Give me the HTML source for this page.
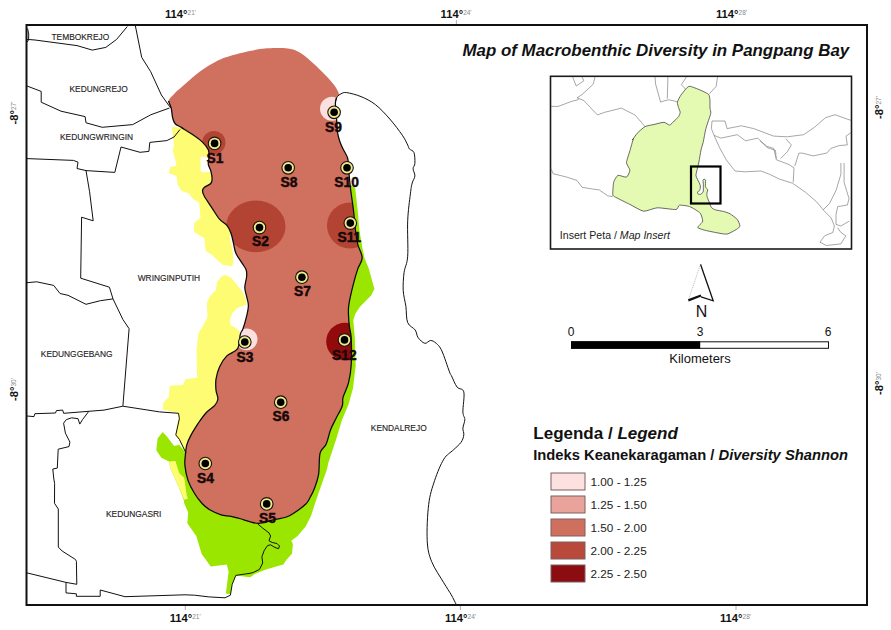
<!DOCTYPE html><html><head><meta charset="utf-8"><style>html,body{margin:0;padding:0;background:#fff;width:891px;height:630px;overflow:hidden}svg{display:block}</style></head><body><svg width="891" height="630" viewBox="0 0 891 630">
<defs><clipPath id="bayclip"><path d="M168.5,101 C169.1,98.5 172.8,95.4 175,93 C177.2,90.6 177.8,90.3 182,86.7 C186.2,83.1 194.0,75.8 200,71.4 C206.0,67.1 212.9,63.2 217.9,60.6 C222.9,58.0 225.7,57.4 230,56 C234.3,54.6 238.6,53.6 243.5,52.5 C248.4,51.4 255.1,49.8 259.6,49.1 C264.1,48.4 265.7,48.3 270.4,48.2 C275.1,48.1 283.4,48.0 287.9,48.5 C292.4,49.0 294.4,49.9 297.3,51.2 C300.2,52.5 302.2,54.0 305.4,56.5 C308.5,59.0 312.6,62.6 316.2,66 C319.8,69.4 323.9,73.4 327,76.8 C330.1,80.2 333.0,83.3 335,86.2 C337.0,89.1 338.8,92.4 339,94.3 C339.2,96.2 337.1,96.0 336.5,97.5 C335.9,99.0 335.5,100.6 335.4,103 C335.3,105.4 335.7,108.3 336,112 C336.3,115.7 336.7,121.4 337,125 C337.3,128.6 337.2,130.6 337.7,133.4 C338.2,136.2 339.1,139.4 340,142 C340.9,144.6 341.8,146.3 343.1,149 C344.4,151.7 346.7,155.0 347.6,158 C348.5,161.0 348.1,162.1 348.5,166.9 C348.9,171.7 349.5,179.7 350.3,186.7 C351.1,193.7 352.4,201.5 353.3,208.9 C354.2,216.3 354.9,225.2 355.6,231.1 C356.4,237.0 356.7,239.9 357.8,244.4 C358.9,248.9 362.2,253.7 362.2,257.8 C362.2,261.9 359.3,264.5 357.8,268.9 C356.3,273.3 354.8,278.5 353.3,284.4 C351.8,290.3 349.7,299.3 348.9,304.4 C348.1,309.5 348.4,311.4 348.5,315 C348.6,318.6 348.9,322.4 349.4,326.2 C349.8,330.0 350.9,331.6 351.2,338 C351.5,344.4 351.6,357.4 351.2,364.9 C350.8,372.4 349.9,377.4 348.5,382.8 C347.1,388.2 344.2,393.3 343.1,397.2 C342.1,401.1 343.4,402.6 342.2,406.2 C341.0,409.8 337.8,414.7 335.9,418.7 C333.9,422.7 332.1,425.8 330.5,430 C328.9,434.2 327.9,440.2 326.2,444.1 C324.5,448.0 321.4,448.2 320.1,453.2 C318.8,458.2 319.6,468.3 318.6,474.3 C317.6,480.3 315.5,485.5 314.1,489.3 C312.7,493.1 311.7,494.5 310.3,497 C308.9,499.5 308.5,501.5 305.6,504.3 C302.7,507.1 296.1,511.7 292.9,513.8 C289.7,515.9 289.4,516.1 286.5,517 C283.6,517.9 280.2,518.4 275.4,519.4 C270.6,520.4 263.9,523.4 257.9,523.3 C251.9,523.1 244.1,519.7 239.4,518.5 C234.8,517.3 233.1,516.8 230,516.2 C226.9,515.6 224.5,516.0 221.1,514.9 C217.7,513.8 212.9,511.7 209.7,509.8 C206.5,507.9 204.6,506.2 202.1,503.5 C199.6,500.8 196.7,497.1 194.4,493.3 C192.1,489.5 189.7,485.2 188.1,480.6 C186.5,476.0 185.3,470.0 184.9,465.4 C184.5,460.8 185.3,456.1 185.6,452.7 C185.9,449.3 186.0,447.6 186.8,444.8 C187.6,442.0 188.7,439.5 190.6,435.9 C192.5,432.3 195.8,427.0 198.3,423.2 C200.9,419.4 203.2,416.0 205.9,413 C208.7,410.0 212.8,407.7 214.8,405.4 C216.8,403.1 217.7,401.5 217.9,399 C218.1,396.5 216.3,393.5 216,390.2 C215.7,386.9 215.4,383.1 216,379.2 C216.6,375.3 217.8,370.6 219.6,366.7 C221.4,362.8 223.8,358.9 226.8,355.9 C229.8,352.9 235.3,352.3 237.6,348.7 C239.8,345.1 239.4,337.7 240.3,334.4 C241.2,331.1 241.9,331.7 243,328.7 C244.1,325.7 245.7,320.1 246.6,316.2 C247.5,312.3 248.4,308.7 248.4,305.4 C248.4,302.1 247.2,299.4 246.6,296.4 C246.0,293.4 244.8,290.8 244.8,287.5 C244.8,284.2 246.4,279.6 246.6,276.7 C246.8,273.8 246.9,272.2 246.2,270 C245.5,267.8 244.1,266.4 242.4,263.7 C240.7,260.9 237.5,256.9 236,253.5 C234.5,250.1 234.3,246.7 233.5,243.3 C232.7,239.9 232.1,236.1 231,233.2 C229.9,230.2 229.0,227.9 227.1,225.6 C225.2,223.3 222.0,222.2 219.5,219.2 C217.0,216.2 214.4,211.6 211.9,207.8 C209.4,204.0 205.9,199.1 204.3,196.3 C202.7,193.5 202.5,192.6 202.5,191.1 C202.5,189.6 203.0,188.6 204.4,187.3 C205.8,186.0 209.5,185.0 210.8,183.5 C212.1,182.0 212.1,180.5 212.1,178.4 C212.1,176.3 211.4,173.1 210.8,170.8 C210.2,168.5 208.6,166.5 208.3,164.4 C208.0,162.3 208.9,160.5 208.9,158.1 C208.9,155.7 209.5,152.6 208.3,149.8 C207.1,147.1 204.7,144.2 201.9,141.6 C199.1,139.0 195.1,136.3 191.7,134 C188.3,131.7 184.3,129.3 181.6,127.6 C178.8,125.9 176.7,125.4 175.2,123.8 C173.7,122.2 173.4,120.6 172.7,118 C172.0,115.4 171.9,111.0 171.2,108.2 C170.5,105.4 167.9,103.5 168.5,101Z"/></clipPath></defs>
<rect width="891" height="630" fill="#fff"/>
<path d="M172,127 L181.6,127.6 L191.7,134 L201.9,141.6 L208.3,149.8 L208.9,156.8 L200.6,156.8 L200.6,171 L203,172.3 L209.5,172.3 L210.8,170.8 L212.1,178.4 L210.8,183.5 L204.4,187.3 L202.5,191.1 L204.3,196.3 L211.9,207.8 L219.5,219.2 L227.1,225.6 L231,233.2 L229.7,238.3 L232.2,247.1 L233.5,259.8 L232.2,266.2 L223.3,264.9 L218.3,261.1 L211.9,254.8 L205.6,251 L204.3,238.3 L194.1,231.9 L194.1,223 L200.5,217.9 L199.2,202.7 L193,199 L189.2,193.7 L181.6,191.1 L177.8,184.8 L176.5,175.9 L168.9,173.3 L170.2,167 L176.5,165.7 L175.2,159.4 L172.7,150.5 L174,145.4Z" fill="#fdfc72"/>
<path d="M221.2,276.7 L225,274.8 L230.7,277.6 L233.9,281.1 L238.4,286.7 L242.9,292.3 L246.2,300.2 L246.2,304.7 L237.2,308.1 L232.7,312.5 L229.9,319.3 L230.5,324.9 L236.1,328.3 L241,333 L238,348.7 L226.8,355.9 L219.6,366.7 L216,379.2 L216,390.2 L217.9,399 L214.8,405.4 L205.9,413 L198.3,423.2 L190.6,435.9 L186.8,444.8 L185.6,456 L184.3,451.1 L179.2,439.7 L175.4,435.9 L177.3,423.2 L179.2,416.8 L177.9,413 L162.7,409.5 L163.3,402.9 L169,396.5 L169.7,385.7 L183,385.1 L185.5,379.2 L197.2,377.5 L196.5,350 L198.5,332.7 L202.4,327.1 L207.5,317 L206.9,302.4 L210.3,295.7 L215.9,290.1 L217,282.2Z" fill="#fdfc72"/>
<path d="M162.7,432.1 L166.5,435.9 L174.1,446 L179.2,444.8 L184.3,451.1 L186,453 L230,470 L300,400 L330,250 L345,195 L350.5,185.5 L355.2,188 L357.5,208.9 L359.5,231.1 L362.2,246.7 L364.4,257.8 L368.9,268.9 L374.4,288.9 L371.1,295.6 L360,306.7 L355.6,313.3 L353.3,320 L354.8,338 L355.7,364.9 L353,388.2 L348.5,404.4 L342,420 L335.9,440 L328.3,462.9 L327,469.2 L319.4,490.8 L314.5,505 L311,516 L305.6,526.5 L297.6,536 L291.3,540.8 L292.9,544 L292.1,553.5 L286.5,559.8 L283.3,564.6 L265.9,569.4 L254.8,574.1 L250.2,577.2 L235.8,575.4 L232.2,584.4 L230.4,594.3 L225.9,593.4 L228.6,571.8 L226.8,564.6 L210.7,566.4 L201.7,553.9 L196.3,535.9 L187.3,523.3 L188.2,512.6 L184.3,503.5 L183.7,499.7 L179.2,488.3 L170.3,467.9 L169,461.6 L161.4,457.8 L156.3,450.2 L157.6,438.4Z" fill="#9ae600"/>
<path d="M169,461.6 L175.4,461 L179.2,473 L184.3,478.1 L186.8,495.9 L188.1,498.4 L184.3,499.7 L179.2,488.3 L170.3,467.9Z" fill="#fdfc72"/>
<path d="M168.5,101 C169.1,98.5 172.8,95.4 175,93 C177.2,90.6 177.8,90.3 182,86.7 C186.2,83.1 194.0,75.8 200,71.4 C206.0,67.1 212.9,63.2 217.9,60.6 C222.9,58.0 225.7,57.4 230,56 C234.3,54.6 238.6,53.6 243.5,52.5 C248.4,51.4 255.1,49.8 259.6,49.1 C264.1,48.4 265.7,48.3 270.4,48.2 C275.1,48.1 283.4,48.0 287.9,48.5 C292.4,49.0 294.4,49.9 297.3,51.2 C300.2,52.5 302.2,54.0 305.4,56.5 C308.5,59.0 312.6,62.6 316.2,66 C319.8,69.4 323.9,73.4 327,76.8 C330.1,80.2 333.0,83.3 335,86.2 C337.0,89.1 338.8,92.4 339,94.3 C339.2,96.2 337.1,96.0 336.5,97.5 C335.9,99.0 335.5,100.6 335.4,103 C335.3,105.4 335.7,108.3 336,112 C336.3,115.7 336.7,121.4 337,125 C337.3,128.6 337.2,130.6 337.7,133.4 C338.2,136.2 339.1,139.4 340,142 C340.9,144.6 341.8,146.3 343.1,149 C344.4,151.7 346.7,155.0 347.6,158 C348.5,161.0 348.1,162.1 348.5,166.9 C348.9,171.7 349.5,179.7 350.3,186.7 C351.1,193.7 352.4,201.5 353.3,208.9 C354.2,216.3 354.9,225.2 355.6,231.1 C356.4,237.0 356.7,239.9 357.8,244.4 C358.9,248.9 362.2,253.7 362.2,257.8 C362.2,261.9 359.3,264.5 357.8,268.9 C356.3,273.3 354.8,278.5 353.3,284.4 C351.8,290.3 349.7,299.3 348.9,304.4 C348.1,309.5 348.4,311.4 348.5,315 C348.6,318.6 348.9,322.4 349.4,326.2 C349.8,330.0 350.9,331.6 351.2,338 C351.5,344.4 351.6,357.4 351.2,364.9 C350.8,372.4 349.9,377.4 348.5,382.8 C347.1,388.2 344.2,393.3 343.1,397.2 C342.1,401.1 343.4,402.6 342.2,406.2 C341.0,409.8 337.8,414.7 335.9,418.7 C333.9,422.7 332.1,425.8 330.5,430 C328.9,434.2 327.9,440.2 326.2,444.1 C324.5,448.0 321.4,448.2 320.1,453.2 C318.8,458.2 319.6,468.3 318.6,474.3 C317.6,480.3 315.5,485.5 314.1,489.3 C312.7,493.1 311.7,494.5 310.3,497 C308.9,499.5 308.5,501.5 305.6,504.3 C302.7,507.1 296.1,511.7 292.9,513.8 C289.7,515.9 289.4,516.1 286.5,517 C283.6,517.9 280.2,518.4 275.4,519.4 C270.6,520.4 263.9,523.4 257.9,523.3 C251.9,523.1 244.1,519.7 239.4,518.5 C234.8,517.3 233.1,516.8 230,516.2 C226.9,515.6 224.5,516.0 221.1,514.9 C217.7,513.8 212.9,511.7 209.7,509.8 C206.5,507.9 204.6,506.2 202.1,503.5 C199.6,500.8 196.7,497.1 194.4,493.3 C192.1,489.5 189.7,485.2 188.1,480.6 C186.5,476.0 185.3,470.0 184.9,465.4 C184.5,460.8 185.3,456.1 185.6,452.7 C185.9,449.3 186.0,447.6 186.8,444.8 C187.6,442.0 188.7,439.5 190.6,435.9 C192.5,432.3 195.8,427.0 198.3,423.2 C200.9,419.4 203.2,416.0 205.9,413 C208.7,410.0 212.8,407.7 214.8,405.4 C216.8,403.1 217.7,401.5 217.9,399 C218.1,396.5 216.3,393.5 216,390.2 C215.7,386.9 215.4,383.1 216,379.2 C216.6,375.3 217.8,370.6 219.6,366.7 C221.4,362.8 223.8,358.9 226.8,355.9 C229.8,352.9 235.3,352.3 237.6,348.7 C239.8,345.1 239.4,337.7 240.3,334.4 C241.2,331.1 241.9,331.7 243,328.7 C244.1,325.7 245.7,320.1 246.6,316.2 C247.5,312.3 248.4,308.7 248.4,305.4 C248.4,302.1 247.2,299.4 246.6,296.4 C246.0,293.4 244.8,290.8 244.8,287.5 C244.8,284.2 246.4,279.6 246.6,276.7 C246.8,273.8 246.9,272.2 246.2,270 C245.5,267.8 244.1,266.4 242.4,263.7 C240.7,260.9 237.5,256.9 236,253.5 C234.5,250.1 234.3,246.7 233.5,243.3 C232.7,239.9 232.1,236.1 231,233.2 C229.9,230.2 229.0,227.9 227.1,225.6 C225.2,223.3 222.0,222.2 219.5,219.2 C217.0,216.2 214.4,211.6 211.9,207.8 C209.4,204.0 205.9,199.1 204.3,196.3 C202.7,193.5 202.5,192.6 202.5,191.1 C202.5,189.6 203.0,188.6 204.4,187.3 C205.8,186.0 209.5,185.0 210.8,183.5 C212.1,182.0 212.1,180.5 212.1,178.4 C212.1,176.3 211.4,173.1 210.8,170.8 C210.2,168.5 208.6,166.5 208.3,164.4 C208.0,162.3 208.9,160.5 208.9,158.1 C208.9,155.7 209.5,152.6 208.3,149.8 C207.1,147.1 204.7,144.2 201.9,141.6 C199.1,139.0 195.1,136.3 191.7,134 C188.3,131.7 184.3,129.3 181.6,127.6 C178.8,125.9 176.7,125.4 175.2,123.8 C173.7,122.2 173.4,120.6 172.7,118 C172.0,115.4 171.9,111.0 171.2,108.2 C170.5,105.4 167.9,103.5 168.5,101Z" fill="#d0705e"/>
<g clip-path="url(#bayclip)">
<circle cx="213.9" cy="142.5" r="11.6" fill="#b34333"/>
<ellipse cx="255.8" cy="226.4" rx="29.7" ry="25.8" fill="#b34333"/>
<circle cx="350" cy="225.5" r="23" fill="#b34333"/>
<circle cx="345" cy="341.5" r="18.8" fill="#920a0c"/>
<circle cx="332" cy="108.8" r="12" fill="#fce0e0"/>
<circle cx="246.6" cy="339.3" r="10.9" fill="#fce0e0"/>
</g>
<g fill="none" stroke="#111" stroke-width="1" stroke-linejoin="round">
<path d="M336.5,97.5 C336.3,98.4 335.5,100.6 335.4,103 C335.3,105.4 335.7,108.3 336,112 C336.3,115.7 336.7,121.4 337,125 C337.3,128.6 337.2,130.6 337.7,133.4 C338.2,136.2 339.1,139.4 340,142 C340.9,144.6 341.8,146.3 343.1,149 C344.4,151.7 346.7,155.0 347.6,158 C348.5,161.0 348.1,162.1 348.5,166.9 C348.9,171.7 349.5,179.7 350.3,186.7 C351.1,193.7 352.4,201.5 353.3,208.9 C354.2,216.3 354.9,225.2 355.6,231.1 C356.4,237.0 356.7,239.9 357.8,244.4 C358.9,248.9 362.2,253.7 362.2,257.8 C362.2,261.9 359.3,264.5 357.8,268.9 C356.3,273.3 354.8,278.5 353.3,284.4 C351.8,290.3 349.7,299.3 348.9,304.4 C348.1,309.5 348.4,311.4 348.5,315 C348.6,318.6 348.9,322.4 349.4,326.2 C349.8,330.0 350.9,331.6 351.2,338 C351.5,344.4 351.6,357.4 351.2,364.9 C350.8,372.4 349.9,377.4 348.5,382.8 C347.1,388.2 344.2,393.3 343.1,397.2 C342.1,401.1 343.4,402.6 342.2,406.2 C341.0,409.8 337.8,414.7 335.9,418.7 C333.9,422.7 332.1,425.8 330.5,430 C328.9,434.2 327.9,440.2 326.2,444.1 C324.5,448.0 321.4,448.2 320.1,453.2 C318.8,458.2 319.6,468.3 318.6,474.3 C317.6,480.3 315.5,485.5 314.1,489.3 C312.7,493.1 311.7,494.5 310.3,497 C308.9,499.5 308.5,501.5 305.6,504.3 C302.7,507.1 296.1,511.7 292.9,513.8 C289.7,515.9 289.4,516.1 286.5,517 C283.6,517.9 280.2,518.4 275.4,519.4 C270.6,520.4 263.9,523.4 257.9,523.3 C251.9,523.1 244.1,519.7 239.4,518.5 C234.8,517.3 233.1,516.8 230,516.2 C226.9,515.6 224.5,516.0 221.1,514.9 C217.7,513.8 212.9,511.7 209.7,509.8 C206.5,507.9 204.6,506.2 202.1,503.5 C199.6,500.8 196.7,497.1 194.4,493.3 C192.1,489.5 189.7,485.2 188.1,480.6 C186.5,476.0 185.3,470.0 184.9,465.4 C184.5,460.8 185.3,456.1 185.6,452.7 C185.9,449.3 186.0,447.6 186.8,444.8 C187.6,442.0 188.7,439.5 190.6,435.9 C192.5,432.3 195.8,427.0 198.3,423.2 C200.9,419.4 203.2,416.0 205.9,413 C208.7,410.0 212.8,407.7 214.8,405.4 C216.8,403.1 217.7,401.5 217.9,399 C218.1,396.5 216.3,393.5 216,390.2 C215.7,386.9 215.4,383.1 216,379.2 C216.6,375.3 217.8,370.6 219.6,366.7 C221.4,362.8 223.8,358.9 226.8,355.9 C229.8,352.9 235.3,352.3 237.6,348.7 C239.8,345.1 239.4,337.7 240.3,334.4 C241.2,331.1 241.9,331.7 243,328.7 C244.1,325.7 245.7,320.1 246.6,316.2 C247.5,312.3 248.4,308.7 248.4,305.4 C248.4,302.1 247.2,299.4 246.6,296.4 C246.0,293.4 244.8,290.8 244.8,287.5 C244.8,284.2 246.4,279.6 246.6,276.7 C246.8,273.8 246.9,272.2 246.2,270 C245.5,267.8 244.1,266.4 242.4,263.7 C240.7,260.9 237.5,256.9 236,253.5 C234.5,250.1 234.3,246.7 233.5,243.3 C232.7,239.9 232.1,236.1 231,233.2 C229.9,230.2 229.0,227.9 227.1,225.6 C225.2,223.3 222.0,222.2 219.5,219.2 C217.0,216.2 214.4,211.6 211.9,207.8 C209.4,204.0 205.9,199.1 204.3,196.3 C202.7,193.5 202.5,192.6 202.5,191.1 C202.5,189.6 203.0,188.6 204.4,187.3 C205.8,186.0 209.5,185.0 210.8,183.5 C212.1,182.0 212.1,180.5 212.1,178.4 C212.1,176.3 211.4,173.1 210.8,170.8 C210.2,168.5 208.6,166.5 208.3,164.4 C208.0,162.3 208.9,160.5 208.9,158.1 C208.9,155.7 209.5,152.6 208.3,149.8 C207.1,147.1 204.7,144.2 201.9,141.6 C199.1,139.0 195.1,136.3 191.7,134 C188.3,131.7 184.3,129.3 181.6,127.6 C178.8,125.9 176.7,125.4 175.2,123.8 C173.7,122.2 173.4,120.6 172.7,118 C172.0,115.4 171.9,111.0 171.2,108.2 C170.5,105.4 168.9,102.2 168.5,101" stroke-width="1.25" stroke="#0a0a0a"/>
<path d="M27,39.4 L35,40 L77,45.6 L92.3,50.1 L105.8,47.4 L116.6,39.4 L127.3,26.5"/>
<path d="M135.4,26 L141.7,57.3 L150.7,71.7 L161.4,95 L168.5,105 L171.2,108.2"/>
<path d="M27,86 L41.2,91.4 L41.2,102.2 L61,111.2 L85.1,116.6 L86,122.8 L102.2,127.3 L132.7,124.6 L150.7,114.8 L169.5,108"/>
<path d="M27,158.6 L73.5,160.4 L78,162.2 L77,168.5 L86,170.6 L114.8,172.4 L121,147 L140,152.3 L148.9,151.4 L149.8,142.4 L166.8,140.6 L174,137 L180,129.5"/>
<path d="M86,170.6 L89.6,191.8 L93.2,220.8 L81.6,217.2 L80.7,278.2 L109.4,287.2 L113,298.9 L122.9,319.5 L129.1,328.7 L122.9,405.9"/>
<path d="M27,282.7 L36.7,281.8 L53.7,285.4 L60,293.5 L68,295.3 L86,304.3 L100.4,300.7 L113,298.9"/>
<path d="M27,416 L34,416.6 L34.9,413.7 L55.5,413 L56.4,410.6 L62.7,410.1 L63.6,413.3 L104,410.1 L122.9,406.2 L159.6,411.9 L178.5,413.3 L179.4,418.7 L175.8,434.9 L179.4,439.4 L186,453"/>
<path d="M88.7,411.5 L82.5,419.6 L79.8,424.1 L78,418.7 L71.7,417.8 L66.3,419.6 L63.6,423.2 L65.4,433.1 L69.9,442.1 L69,446.6 L58.2,449.2 L57.3,468.1 L52.8,469 L53.7,478 L54.6,483.4 L54.5,503.3 L58.3,509 L58.3,547.1 L62.1,551 L75.5,559.5 L76.4,561.4 L76.8,584.3 L66,582.4 L66,592.9 L76.4,593.8 L76.4,596.3 L100.2,596.3 L100.2,590 L125,596.7 L185,594.8 L194.5,595.2 L208.9,596.9 L225,597.8 L230.4,595.2 L232.2,584.4 L235.8,575.4 L250,573.3 L253.2,572.5 L259.5,569.4 L262.7,563 L261.9,556.7 L264.3,550.3 L267.5,545.6 L270.6,544.8 L275,547.5 L278.6,548.7 L279.5,546 L277,543.5 L272.2,542.5 L269,540.8 L270.6,536 L269,532.9 L262.7,528.1 L257.9,524.1"/>
<path d="M27,572.9 L66,582.4"/>
<path d="M335.6,101 C335.9,100.2 336.6,97.7 337.5,96.5 C338.4,95.3 339.5,94.5 341,93.8 C342.5,93.1 343.4,92.1 346.7,92.6 C350.0,93.1 356.2,94.6 361,96.6 C365.8,98.6 370.6,100.9 375.4,104.6 C380.2,108.3 385.3,113.9 389.8,119 C394.3,124.1 399.3,130.9 402.3,135.2 C405.3,139.5 406.5,142.7 407.7,145 C408.9,147.3 408.4,147.7 409.5,149 C410.6,150.3 413.1,150.2 414,152.6 C414.9,155.0 415.0,160.6 414.9,163.3 C414.8,166.0 413.1,166.6 413.1,168.7 C413.1,170.8 415.0,173.5 414.9,175.9 C414.8,178.3 412.9,180.1 412.2,183.1 C411.4,186.1 411.1,187.6 410.4,193.9 C409.6,200.2 408.1,210.4 407.7,220.8 C407.2,231.2 408.3,247.6 407.7,256.2 C407.1,264.8 404.9,266.6 404.1,272.3 C403.4,278.0 402.9,284.6 403.2,290.3 C403.5,296.0 405.1,301.0 405.9,306.4 C406.6,311.8 406.1,318.7 407.7,322.6 C409.2,326.5 413.5,327.5 415.2,330 C416.9,332.5 416.5,335.4 418.1,337.6 C419.7,339.8 422.7,342.8 424.8,343.3 C426.9,343.8 428.6,340.5 430.5,340.5 C432.4,340.5 434.3,341.6 436.2,343.3 C438.1,345.1 439.7,346.2 441.9,351 C444.1,355.8 447.9,367.8 449.5,371.9 C451.1,376.0 450.1,373.2 451.4,375.7 C452.7,378.2 455.0,384.4 457.1,387.1 C459.2,389.8 462.8,387.8 463.8,391.9 C464.8,396.0 462.7,407.3 462.9,411.9 C463.1,416.5 464.8,416.8 464.8,419.5 C464.8,422.2 463.1,425.6 462.9,428.1 C462.7,430.7 464.1,432.4 463.8,434.8 C463.5,437.2 462.8,439.9 461,442.4 C459.2,444.9 456.2,447.2 453.3,450 C450.4,452.8 446.9,454.1 443.8,459.2 C440.7,464.2 437.2,472.8 434.7,480.3 C432.2,487.8 429.9,494.3 428.7,504.4 C427.4,514.4 426.7,531.0 427.2,540.6 C427.7,550.2 428.9,554.7 431.7,561.7 C434.5,568.7 440.5,577.3 443.8,582.8 C447.1,588.3 449.3,591.4 451.3,594.9 C453.3,598.4 455.2,602.5 456,604"/>
<path d="M27.6,28.5 Q29.3,34 28.6,39.4 L27.4,42"/>
</g>
<g font-family="Liberation Sans, sans-serif" font-size="8.4" fill="#222" stroke="#222" stroke-width="0.12">
<text x="51.5" y="39.7">TEMBOKREJO</text>
<text x="69.5" y="92.3">KEDUNGREJO</text>
<text x="60" y="140">KEDUNGWRINGIN</text>
<text x="137.7" y="281">WRINGINPUTIH</text>
<text x="40.8" y="357.2">KEDUNGGEBANG</text>
<text x="106" y="516.8">KEDUNGASRI</text>
<text x="370.8" y="430.5">KENDALREJO</text>
</g>
<g>
<circle cx="214.6" cy="143.4" r="6.3" fill="#ecea8c" stroke="#1a1010" stroke-width="1.1"/>
<circle cx="214.6" cy="143.4" r="3.8" fill="#000"/>
<circle cx="288.2" cy="167.8" r="6.3" fill="#ecea8c" stroke="#1a1010" stroke-width="1.1"/>
<circle cx="288.2" cy="167.8" r="3.8" fill="#000"/>
<circle cx="334.1" cy="112.3" r="6.3" fill="#ecea8c" stroke="#1a1010" stroke-width="1.1"/>
<circle cx="334.1" cy="112.3" r="3.8" fill="#000"/>
<circle cx="347" cy="167.8" r="6.3" fill="#ecea8c" stroke="#1a1010" stroke-width="1.1"/>
<circle cx="347" cy="167.8" r="3.8" fill="#000"/>
<circle cx="350.3" cy="223.1" r="6.3" fill="#ecea8c" stroke="#1a1010" stroke-width="1.1"/>
<circle cx="350.3" cy="223.1" r="3.8" fill="#000"/>
<circle cx="259.5" cy="227.6" r="6.3" fill="#ecea8c" stroke="#1a1010" stroke-width="1.1"/>
<circle cx="259.5" cy="227.6" r="3.8" fill="#000"/>
<circle cx="301.9" cy="277.2" r="6.3" fill="#ecea8c" stroke="#1a1010" stroke-width="1.1"/>
<circle cx="301.9" cy="277.2" r="3.8" fill="#000"/>
<circle cx="244.8" cy="342.0" r="6.3" fill="#ecea8c" stroke="#1a1010" stroke-width="1.1"/>
<circle cx="244.8" cy="342.0" r="3.8" fill="#000"/>
<circle cx="344.5" cy="339.9" r="6.3" fill="#ecea8c" stroke="#1a1010" stroke-width="1.1"/>
<circle cx="344.5" cy="339.9" r="3.8" fill="#000"/>
<circle cx="280.7" cy="402.2" r="6.3" fill="#ecea8c" stroke="#1a1010" stroke-width="1.1"/>
<circle cx="280.7" cy="402.2" r="3.8" fill="#000"/>
<circle cx="205.3" cy="463.5" r="6.3" fill="#ecea8c" stroke="#1a1010" stroke-width="1.1"/>
<circle cx="205.3" cy="463.5" r="3.8" fill="#000"/>
<circle cx="266.7" cy="503.9" r="6.3" fill="#ecea8c" stroke="#1a1010" stroke-width="1.1"/>
<circle cx="266.7" cy="503.9" r="3.8" fill="#000"/>
</g>
<g font-family="Liberation Sans, sans-serif" font-size="13.8" font-weight="bold" fill="#150808" stroke="#150808" stroke-width="0.45">
<text x="206.5" y="162.9">S1</text>
<text x="280.5" y="187">S8</text>
<text x="325" y="131.6">S9</text>
<text x="334.3" y="187">S10</text>
<text x="337.5" y="242.4">S11</text>
<text x="252" y="245.9">S2</text>
<text x="294" y="296.4">S7</text>
<text x="236.5" y="361.7">S3</text>
<text x="332" y="359.5">S12</text>
<text x="272.5" y="421.4">S6</text>
<text x="197" y="482.7">S4</text>
<text x="259" y="522.5">S5</text>
</g>
<rect x="26.5" y="25" width="840.5" height="580" fill="none" stroke="#111" stroke-width="2"/>
<g stroke="#999" stroke-width="0.8">
<line x1="185.3" y1="606" x2="185.3" y2="610"/><line x1="460.4" y1="606" x2="460.4" y2="610"/><line x1="736" y1="606" x2="736" y2="610"/>
<line x1="456.4" y1="20" x2="456.4" y2="24"/>
</g>
<g font-family="Liberation Sans, sans-serif">
<text x="165" y="17.5"><tspan font-size="11.2" font-weight="bold" fill="#111">114°</tspan><tspan font-size="6.5" fill="#888" dy="-2.5">21'</tspan></text>
<text x="440.6" y="17.5"><tspan font-size="11.2" font-weight="bold" fill="#111">114°</tspan><tspan font-size="6.5" fill="#888" dy="-2.5">24'</tspan></text>
<text x="716" y="17.5"><tspan font-size="11.2" font-weight="bold" fill="#111">114°</tspan><tspan font-size="6.5" fill="#888" dy="-2.5">28'</tspan></text>
<text x="169.7" y="621.5"><tspan font-size="11.2" font-weight="bold" fill="#111">114°</tspan><tspan font-size="6.5" fill="#888" dy="-2.5">21'</tspan></text>
<text x="445" y="621.5"><tspan font-size="11.2" font-weight="bold" fill="#111">114°</tspan><tspan font-size="6.5" fill="#888" dy="-2.5">24'</tspan></text>
<text x="720" y="621.5"><tspan font-size="11.2" font-weight="bold" fill="#111">114°</tspan><tspan font-size="6.5" fill="#888" dy="-2.5">28'</tspan></text>
<text transform="translate(18,124.5) rotate(-90)"><tspan font-size="11.2" font-weight="bold" fill="#111">-8°</tspan><tspan font-size="6.5" fill="#888" dy="-2.5">27'</tspan></text>
<text transform="translate(18,401) rotate(-90)"><tspan font-size="11.2" font-weight="bold" fill="#111">-8°</tspan><tspan font-size="6.5" fill="#888" dy="-2.5">30'</tspan></text>
<text transform="translate(883,119) rotate(-90)"><tspan font-size="11.2" font-weight="bold" fill="#111">-8°</tspan><tspan font-size="6.5" fill="#888" dy="-2.5">27'</tspan></text>
<text transform="translate(883,395) rotate(-90)"><tspan font-size="11.2" font-weight="bold" fill="#111">-8°</tspan><tspan font-size="6.5" fill="#888" dy="-2.5">30'</tspan></text>
</g>
<text x="462.5" y="56.3" font-family="Liberation Sans, sans-serif" font-size="16.9" font-weight="bold" font-style="italic" fill="#111">Map of Macrobenthic Diversity in Pangpang Bay</text>
<g>
<rect x="550.5" y="76.3" width="301" height="172.7" fill="#fff" stroke="#1a1a1a" stroke-width="1.6"/>
<path d="M632.5,140 C632.9,139.5 635.8,134.8 637,133.5 C638.2,132.2 643.2,127.6 644.9,126.7 C646.6,125.8 652.0,124.9 653.9,124.5 C655.8,124.1 662.4,122.2 664,122.3 C665.6,122.4 668.6,125.2 669.6,125.1 C670.6,125.0 673.2,121.9 674.1,121.1 C675.0,120.2 678.0,117.5 678.6,116.6 C679.2,115.7 680.2,113.1 680.2,112.2 C680.2,111.3 678.9,108.7 678.6,107.7 C678.3,106.7 677.2,103.3 677.4,102.1 C677.6,100.9 680.0,96.5 680.8,95.3 C681.6,94.1 684.4,90.6 685.3,89.7 C686.2,88.8 687.9,85.8 690.2,86.3 C692.5,86.8 706.6,92.3 708.6,94.5 C710.6,96.7 709.8,106.2 710,108.1 C710.2,110.0 711.1,111.5 710.7,113.6 C710.3,115.6 706.6,125.7 705.9,128.6 C705.1,131.5 703.7,140.1 703.2,142.2 C702.7,144.3 701.4,148.0 701,150 C700.6,152.0 699.3,159.9 698.9,162 C698.5,164.1 697.1,169.4 696.8,170.8 C696.5,172.2 695.8,174.7 696,175.9 C696.2,177.1 698.6,181.4 699,182.4 C699.4,183.4 700.3,185.3 700.4,186.1 C700.5,186.9 700.0,189.9 699.7,190.5 C699.4,191.1 697.6,191.5 697.5,191.9 C697.4,192.3 697.8,193.9 698.2,194.1 C698.6,194.3 700.6,194.4 701.1,194.1 C701.6,193.8 703.1,192.2 703.3,191.2 C703.5,190.2 703.3,185.0 703.3,183.9 C703.3,182.8 702.9,180.7 703,180.2 C703.1,179.7 703.9,179.2 704.1,179.2 C704.4,179.2 705.4,179.4 705.5,180.2 C705.6,181.0 705.3,185.9 705.5,186.8 C705.7,187.8 707.6,189.1 707.7,189.7 C707.9,190.3 707.1,192.0 707,192.7 C706.9,193.4 706.8,195.4 707,196.3 C707.2,197.2 708.8,201.0 709.2,202.1 C709.6,203.2 710.8,206.7 711.4,207.5 C712.0,208.3 714.4,209.5 715.6,209.9 C716.8,210.3 722.2,211.1 723.7,211.5 C725.2,211.9 728.8,213.1 730.2,213.9 C731.6,214.7 736.4,218.4 737.4,219.6 C738.4,220.8 740.0,225.0 739.9,226 C739.8,227.0 737.9,228.5 736.6,229.3 C735.3,230.1 729.0,233.8 726.9,234.1 C724.8,234.4 717.9,232.9 715.6,232.5 C713.3,232.1 706.1,230.6 704.3,230.1 C702.5,229.6 698.3,228.2 697.8,227.7 C697.3,227.2 698.9,225.8 699.4,225.2 C699.9,224.5 702.6,222.4 702.7,221.2 C702.8,220.0 701.5,214.6 700.2,213.1 C698.9,211.6 691.8,207.4 689.7,206.6 C687.6,205.8 680.8,204.9 679.4,205.2 C678.0,205.5 678.2,209.2 676,209.5 C673.8,209.8 660.4,207.6 657.2,207.8 C654.0,208.0 646.3,211.5 643.6,211.2 C640.9,210.9 632.8,205.8 629.9,204.4 C627.0,203.0 616.3,197.7 614.6,196.7 C612.9,195.7 612.9,195.5 612.8,194.1 C612.7,192.7 613.2,184.1 613.7,182.2 C614.2,180.3 616.7,175.9 618,175.4 C619.3,174.9 625.3,177.6 626.5,177.1 C627.7,176.6 629.9,171.6 629.9,170.2 C629.9,168.8 626.5,164.6 626.5,162.7 C626.5,160.8 629.2,153.2 629.9,150.8 C630.6,148.4 633.0,139.9 633.3,138.8 C633.6,137.7 632.1,140.5 632.5,140Z" fill="#e4fab2" stroke="#444" stroke-width="0.8"/>
<g fill="none" stroke="#777" stroke-width="0.65">
<path d="M572.7,77 L576.2,86 L583.8,80.8 L582.1,77"/>
<path d="M595,77 L593.2,84.2 L582.1,94.5 L577,97.9 L583.8,100.5 L597.5,115 L604.3,112.4 L621.4,108.1 L635,115 L645.3,126.9"/>
<path d="M551,106.4 L558.2,106.4 L571.9,101.3 L578.7,99.6"/>
<path d="M655,77 L655.6,84.1 L660.6,102.1 L664,100.9 L668.5,99.8 L674.1,100.9 L677.4,102.1"/>
<path d="M667.9,77 L667.3,98.7"/>
<path d="M686.4,77 L681.4,84.7 L684.7,88 L685.3,89.7"/>
<path d="M717.5,77 L716.2,86.3 L709.3,93.8"/>
<path d="M551,168.5 L553.1,173.7 L566.8,177.1 L577,180.5 L582.1,187.3 L592.4,189 L599.2,189.9 L607.7,195.8 L612.8,196.7"/>
<path d="M712,121 L725,121 L727.1,128.6 L741.4,125.8 L753.7,128.6 L773.6,136.1 L787.3,136.8 L803.7,134.7 L814.6,127.2 L825.5,117.7 L835,114.7 L843.2,117.7 L851,120.4"/>
<path d="M712,121 L711.4,128.6 L714.1,135.4 L720.9,138.1 L737.3,134.7 L745.5,140.8 L757.8,138.1 L767.3,147.7 L775.5,150.4 L776.2,159.7 L789.1,164.6 L794,167.8 L793.2,182.4"/>
<path d="M714.1,135.4 L719.6,147.7 L726.4,160 L735,171 L744.7,171.8 L760.9,171 L769.7,174.3 L779.4,179.1 L792.4,183.2 L805.3,192.1 L816.6,201.8 L824.7,211.5 L831.2,218 L834.4,226 L832.8,232.5 L824.7,235.8 L819.9,242.2 L826.3,245.5 L840.9,243.9 L845.8,235.8 L840.9,232.5 L837.7,227.7"/>
<path d="M760,140.8 L766.8,146.3 L773.6,148.4 L776.4,158.6"/>
<path d="M785.9,138.8 L791.4,145 L787.3,151.8 L780.5,158.6"/>
<path d="M794.8,166.2 L798.8,153.2 L802.3,153.1 L813.2,155.9 L826.8,153.1 L830.9,148.4 L839.1,145.6 L847.3,144.9 L846,136.1 L851,132.7"/>
<path d="M840.9,162.9 L840.9,174.3 L836,190.5 L829.6,203.4 L823.1,209.9"/>
<path d="M844.1,162.9 L844.1,182.4 L849,198.5 L847.4,205 L837.7,206.6 L836,214.7 L836,224.4 L840.9,226 L849,221.2"/>
</g>
<rect x="691" y="166.5" width="29.5" height="37" fill="none" stroke="#000" stroke-width="2.2"/>
<text x="559.8" y="238.8" font-family="Liberation Sans, sans-serif" font-size="10.6" fill="#222">Insert Peta / <tspan font-style="italic">Map Insert</tspan></text>
</g>
<path d="M700.5,264.2 L713.2,300.8 L701,296.9" fill="none" stroke="#111" stroke-width="1.3" stroke-linejoin="miter"/>
<path d="M688.3,300.4 L701,295.5" fill="none" stroke="#111" stroke-width="2.4"/>
<path d="M700.5,264.2 L688.3,300.4" fill="none" stroke="#999" stroke-width="0.7" stroke-dasharray="1,1"/>
<text x="701.5" y="316.7" text-anchor="middle" font-family="Liberation Sans, sans-serif" font-size="16" fill="#111">N</text>
<rect x="571.5" y="341.8" width="257" height="6.5" fill="#fff" stroke="#111" stroke-width="1"/>
<rect x="571" y="341.3" width="129.2" height="7.4" fill="#000"/>
<g font-family="Liberation Sans, sans-serif" font-size="12" fill="#111" text-anchor="middle">
<text x="571" y="335.9">0</text><text x="700" y="335.9">3</text><text x="828" y="335.9">6</text>
<text x="700" y="362.7" font-size="13">Kilometers</text>
</g>
<text x="533.3" y="438.7" font-family="Liberation Sans, sans-serif" font-size="17" font-weight="bold" fill="#111">Legenda / <tspan font-style="italic">Legend</tspan></text>
<text x="533.2" y="459.6" font-family="Liberation Sans, sans-serif" font-size="14.75" font-weight="bold" fill="#111">Indeks Keanekaragaman / <tspan font-style="italic">Diversity Shannon</tspan></text>
<rect x="551" y="473" width="34" height="17" fill="#fde0e0" stroke="#7a6060" stroke-width="1"/>
<text x="590.5" y="486" font-family="Liberation Sans, sans-serif" font-size="11.75" fill="#222">1.00 - 1.25</text>
<rect x="551" y="496" width="34" height="17" fill="#e9a39a" stroke="#7a6060" stroke-width="1"/>
<text x="590.5" y="509" font-family="Liberation Sans, sans-serif" font-size="11.75" fill="#222">1.25 - 1.50</text>
<rect x="551" y="519" width="34" height="17" fill="#cf705f" stroke="#7a6060" stroke-width="1"/>
<text x="590.5" y="532" font-family="Liberation Sans, sans-serif" font-size="11.75" fill="#222">1.50 - 2.00</text>
<rect x="551" y="542" width="34" height="17" fill="#b9493b" stroke="#7a6060" stroke-width="1"/>
<text x="590.5" y="555" font-family="Liberation Sans, sans-serif" font-size="11.75" fill="#222">2.00 - 2.25</text>
<rect x="551" y="565" width="34" height="17" fill="#8c0d11" stroke="#7a6060" stroke-width="1"/>
<text x="590.5" y="578" font-family="Liberation Sans, sans-serif" font-size="11.75" fill="#222">2.25 - 2.50</text>
</svg></body></html>
